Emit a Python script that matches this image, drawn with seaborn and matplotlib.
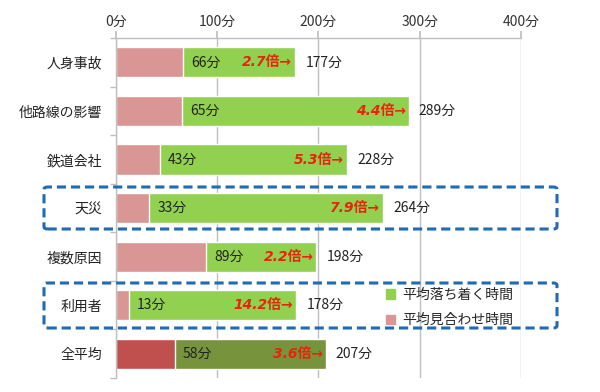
import numpy as np
import pandas as pd
import matplotlib
matplotlib.use("Agg")
import matplotlib.pyplot as plt
from matplotlib.patches import FancyBboxPatch, Patch
import seaborn as sns

# data
categories = ["人身事故", "他路線の影響", "鉄道会社", "天災", "複数原因", "利用者", "全平均"]
stop_time = [66, 65, 43, 33, 89, 13, 58]          # 平均見合わせ時間
total_time = [177, 289, 228, 264, 198, 178, 207]  # 平均見合わせ + 平均落ち着く
ratio_labels = ["2.7倍", "4.4倍", "5.3倍", "7.9倍", "2.2倍", "14.2倍", "3.6倍"]
x_ticks = [0, 100, 200, 300, 400]

df = pd.DataFrame({"cat": categories, "stop": stop_time, "total": total_time})

sns.set_theme(style="white")
plt.rcParams["font.family"] = ["Noto Sans CJK JP", "DejaVu Sans"]

green = "#92D050"
pink = "#D99694"
green_avg = "#77933C"
pink_avg = "#C0504D"
green_pal = [green] * 6 + [green_avg]
pink_pal = [pink] * 6 + [pink_avg]
fs = 10

fig = plt.figure(figsize=(6, 3.92), dpi=100)
ax = fig.add_axes([0.1933, 0.0357, 0.675, 0.867])

sns.barplot(data=df, x="total", y="cat", hue="cat", palette=green_pal,
            orient="h", width=0.62, legend=False, ax=ax, saturation=1)
sns.barplot(data=df, x="stop", y="cat", hue="cat", palette=pink_pal,
            orient="h", width=0.62, legend=False, ax=ax, saturation=1)

ax.set_xlim(0, 400)
ax.set_ylim(6.5, -0.5)
ax.set_xlabel("")
ax.set_ylabel("")
ax.xaxis.tick_top()
ax.set_xticks(x_ticks)
ax.set_xticklabels([f"{v}分" for v in x_ticks], fontsize=fs, color="#333333")
ax.tick_params(axis="x", length=5, color="#BFBFBF", pad=2)
ax.tick_params(axis="y", length=0, pad=10, labelsize=fs, labelcolor="#222222")
ax.set_yticks(range(len(categories)), minor=False)
ax.set_yticks(np.arange(-0.5, len(categories), 1), minor=True)
ax.tick_params(axis="y", which="minor", length=4, color="#BFBFBF", left=True)
ax.grid(axis="x", color="#BFBFBF", lw=1)
ax.set_axisbelow(True)
for s in ["bottom", "right"]:
    ax.spines[s].set_visible(False)
for s in ["top", "left"]:
    ax.spines[s].set_color("#BFBFBF")
    ax.spines[s].set_linewidth(1)

for i, (s, t, r) in enumerate(zip(stop_time, total_time, ratio_labels)):
    ax.text(s + 8, i, f"{s}分", va="center", ha="left", fontsize=fs, color="#222222")
    ax.text(t - 3, i, r + "→", va="center", ha="right", fontsize=fs,
            color="#E8240C", fontweight="bold", fontstyle="italic",
            family=["DejaVu Sans", "Noto Sans CJK JP"])
    ax.text(t + 10, i, f"{t}分", va="center", ha="left", fontsize=fs, color="#222222")

# dashed highlight boxes (figure pixels -> fractions)
W, H = 600, 392
for y0, y1 in [(187, 229), (283, 328)]:
    box = FancyBboxPatch((44 / W, 1 - y1 / H), (557 - 44) / W, (y1 - y0) / H,
                         boxstyle="round,pad=0,rounding_size=0.006",
                         transform=fig.transFigure, fill=False,
                         edgecolor="#1F6BB5", lw=2.2, ls=(0, (3, 1.6)))
    fig.patches.append(box)

handles = [Patch(color=green, label="平均落ち着く時間"),
           Patch(color=pink, label="平均見合わせ時間")]
fig.legend(handles=handles, loc="upper left", bbox_to_anchor=(380 / W, 1 - 282 / H),
           frameon=False, fontsize=fs, handlelength=0.7, handleheight=0.7,
           handletextpad=0.5, labelspacing=0.85, borderaxespad=0)

fig.savefig("out.png", dpi=100)
